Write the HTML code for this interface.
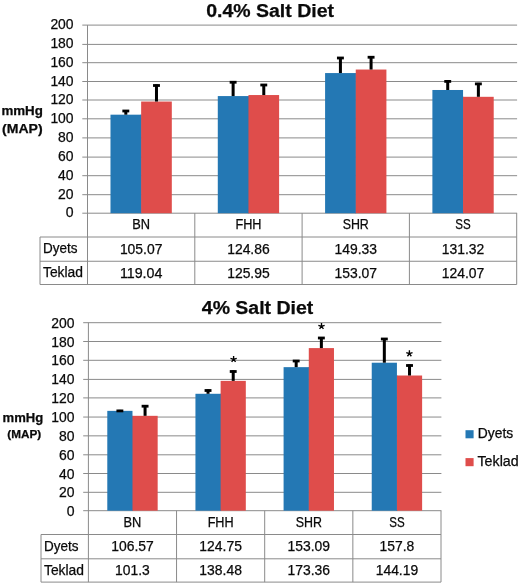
<!DOCTYPE html><html><head><meta charset="utf-8"><title>Salt Diet MAP</title>
<style>html,body{margin:0;padding:0;background:#fff}svg{display:block;will-change:transform;transform:translateZ(0)}text{font-family:"Liberation Sans",sans-serif;fill:#0a0a0a;stroke:#0a0a0a;stroke-width:0.25px}</style></head><body>
<svg width="520" height="585" viewBox="0 0 520 585">
<rect width="520" height="585" fill="#fff"/>
<line x1="82.30" y1="213.20" x2="517.10" y2="213.20" stroke="#8a8a8a" stroke-width="1"/>
<text x="73.60" y="217.20" font-size="13.9" text-anchor="end" textLength="7.8" lengthAdjust="spacingAndGlyphs">0</text>
<line x1="82.30" y1="194.70" x2="517.10" y2="194.70" stroke="#8a8a8a" stroke-width="1"/>
<text x="73.60" y="198.70" font-size="13.9" text-anchor="end" textLength="15.5" lengthAdjust="spacingAndGlyphs">20</text>
<line x1="82.30" y1="175.70" x2="517.10" y2="175.70" stroke="#8a8a8a" stroke-width="1"/>
<text x="73.60" y="179.70" font-size="13.9" text-anchor="end" textLength="15.5" lengthAdjust="spacingAndGlyphs">40</text>
<line x1="82.30" y1="157.10" x2="517.10" y2="157.10" stroke="#8a8a8a" stroke-width="1"/>
<text x="73.60" y="161.10" font-size="13.9" text-anchor="end" textLength="15.5" lengthAdjust="spacingAndGlyphs">60</text>
<line x1="82.30" y1="137.90" x2="517.10" y2="137.90" stroke="#8a8a8a" stroke-width="1"/>
<text x="73.60" y="141.90" font-size="13.9" text-anchor="end" textLength="15.5" lengthAdjust="spacingAndGlyphs">80</text>
<line x1="82.30" y1="118.80" x2="517.10" y2="118.80" stroke="#8a8a8a" stroke-width="1"/>
<text x="73.60" y="122.80" font-size="13.9" text-anchor="end" textLength="23.2" lengthAdjust="spacingAndGlyphs">100</text>
<line x1="82.30" y1="100.00" x2="517.10" y2="100.00" stroke="#8a8a8a" stroke-width="1"/>
<text x="73.60" y="104.00" font-size="13.9" text-anchor="end" textLength="23.2" lengthAdjust="spacingAndGlyphs">120</text>
<line x1="82.30" y1="81.50" x2="517.10" y2="81.50" stroke="#8a8a8a" stroke-width="1"/>
<text x="73.60" y="85.50" font-size="13.9" text-anchor="end" textLength="23.2" lengthAdjust="spacingAndGlyphs">140</text>
<line x1="82.30" y1="62.70" x2="517.10" y2="62.70" stroke="#8a8a8a" stroke-width="1"/>
<text x="73.60" y="66.70" font-size="13.9" text-anchor="end" textLength="23.2" lengthAdjust="spacingAndGlyphs">160</text>
<line x1="82.30" y1="44.40" x2="517.10" y2="44.40" stroke="#8a8a8a" stroke-width="1"/>
<text x="73.60" y="48.40" font-size="13.9" text-anchor="end" textLength="23.2" lengthAdjust="spacingAndGlyphs">180</text>
<line x1="82.30" y1="25.10" x2="517.10" y2="25.10" stroke="#8a8a8a" stroke-width="1"/>
<text x="73.60" y="29.10" font-size="13.9" text-anchor="end" textLength="23.2" lengthAdjust="spacingAndGlyphs">200</text>
<line x1="87.50" y1="25.10" x2="87.50" y2="284.50" stroke="#8a8a8a" stroke-width="1"/>
<rect x="140.55" y="114.68" width="1.2" height="98.52" fill="#2478b4"/>
<rect x="110.49" y="114.68" width="30.66" height="98.52" fill="#2478b4"/>
<rect x="141.15" y="101.54" width="30.66" height="111.66" fill="#df4d4b"/>
<rect x="124.32" y="110.00" width="3" height="4.68" fill="#000"/>
<rect x="122.37" y="109.60" width="6.9" height="2.8" fill="#000"/>
<rect x="154.98" y="84.50" width="3" height="17.04" fill="#000"/>
<rect x="153.03" y="84.10" width="6.9" height="2.8" fill="#000"/>
<rect x="247.85" y="96.07" width="1.2" height="117.13" fill="#2478b4"/>
<rect x="217.79" y="96.07" width="30.66" height="117.13" fill="#2478b4"/>
<rect x="248.45" y="95.04" width="30.66" height="118.16" fill="#df4d4b"/>
<rect x="231.62" y="81.25" width="3" height="14.82" fill="#000"/>
<rect x="229.67" y="80.85" width="6.9" height="2.8" fill="#000"/>
<rect x="262.28" y="84.00" width="3" height="11.04" fill="#000"/>
<rect x="260.33" y="83.60" width="6.9" height="2.8" fill="#000"/>
<rect x="355.15" y="73.06" width="1.2" height="140.14" fill="#2478b4"/>
<rect x="325.09" y="73.06" width="30.66" height="140.14" fill="#2478b4"/>
<rect x="355.75" y="69.54" width="30.66" height="143.66" fill="#df4d4b"/>
<rect x="338.92" y="57.00" width="3" height="16.06" fill="#000"/>
<rect x="336.97" y="56.60" width="6.9" height="2.8" fill="#000"/>
<rect x="369.58" y="56.25" width="3" height="13.29" fill="#000"/>
<rect x="367.63" y="55.85" width="6.9" height="2.8" fill="#000"/>
<rect x="462.45" y="96.81" width="1.2" height="116.39" fill="#2478b4"/>
<rect x="432.39" y="89.99" width="30.66" height="123.21" fill="#2478b4"/>
<rect x="463.05" y="96.81" width="30.66" height="116.39" fill="#df4d4b"/>
<rect x="446.22" y="80.40" width="3" height="9.59" fill="#000"/>
<rect x="444.27" y="80.00" width="6.9" height="2.8" fill="#000"/>
<rect x="476.88" y="82.90" width="3" height="13.91" fill="#000"/>
<rect x="474.93" y="82.50" width="6.9" height="2.8" fill="#000"/>
<line x1="40.00" y1="237.00" x2="516.70" y2="237.00" stroke="#8a8a8a" stroke-width="1"/>
<line x1="40.00" y1="261.25" x2="516.70" y2="261.25" stroke="#8a8a8a" stroke-width="1"/>
<line x1="40.00" y1="284.50" x2="516.70" y2="284.50" stroke="#8a8a8a" stroke-width="1"/>
<line x1="40.00" y1="237.00" x2="40.00" y2="284.50" stroke="#8a8a8a" stroke-width="1"/>
<line x1="194.80" y1="213.20" x2="194.80" y2="284.50" stroke="#8a8a8a" stroke-width="1"/>
<line x1="302.10" y1="213.20" x2="302.10" y2="284.50" stroke="#8a8a8a" stroke-width="1"/>
<line x1="409.40" y1="213.20" x2="409.40" y2="284.50" stroke="#8a8a8a" stroke-width="1"/>
<line x1="516.70" y1="213.20" x2="516.70" y2="284.50" stroke="#8a8a8a" stroke-width="1"/>
<text x="141.15" y="229.10" font-size="13.8" text-anchor="middle" textLength="17.8" lengthAdjust="spacingAndGlyphs">BN</text>
<text x="141.15" y="253.60" font-size="13.8" text-anchor="middle" textLength="42.5" lengthAdjust="spacingAndGlyphs">105.07</text>
<text x="141.15" y="277.85" font-size="13.8" text-anchor="middle" textLength="42.5" lengthAdjust="spacingAndGlyphs">119.04</text>
<text x="248.45" y="229.10" font-size="13.8" text-anchor="middle" textLength="26.0" lengthAdjust="spacingAndGlyphs">FHH</text>
<text x="248.45" y="253.60" font-size="13.8" text-anchor="middle" textLength="42.5" lengthAdjust="spacingAndGlyphs">124.86</text>
<text x="248.45" y="277.85" font-size="13.8" text-anchor="middle" textLength="42.5" lengthAdjust="spacingAndGlyphs">125.95</text>
<text x="355.75" y="229.10" font-size="13.8" text-anchor="middle" textLength="26.2" lengthAdjust="spacingAndGlyphs">SHR</text>
<text x="355.75" y="253.60" font-size="13.8" text-anchor="middle" textLength="42.5" lengthAdjust="spacingAndGlyphs">149.33</text>
<text x="355.75" y="277.85" font-size="13.8" text-anchor="middle" textLength="42.5" lengthAdjust="spacingAndGlyphs">153.07</text>
<text x="463.05" y="229.10" font-size="13.8" text-anchor="middle" textLength="15.4" lengthAdjust="spacingAndGlyphs">SS</text>
<text x="463.05" y="253.60" font-size="13.8" text-anchor="middle" textLength="42.5" lengthAdjust="spacingAndGlyphs">131.32</text>
<text x="463.05" y="277.85" font-size="13.8" text-anchor="middle" textLength="42.5" lengthAdjust="spacingAndGlyphs">124.07</text>
<text x="43.00" y="253.00" font-size="13.8" text-anchor="start" textLength="34.5" lengthAdjust="spacingAndGlyphs">Dyets</text>
<text x="43.00" y="277.25" font-size="13.8" text-anchor="start" textLength="40.0" lengthAdjust="spacingAndGlyphs">Teklad</text>
<text x="206.20" y="17.20" font-size="19.1" text-anchor="start" font-weight="bold" textLength="127.8" lengthAdjust="spacingAndGlyphs">0.4% Salt Diet</text>
<text x="1.40" y="114.70" font-size="13.3" text-anchor="start" font-weight="bold" textLength="41.5" lengthAdjust="spacingAndGlyphs">mmHg</text>
<text x="2.00" y="133.00" font-size="13.3" text-anchor="start" font-weight="bold" textLength="40.6" lengthAdjust="spacingAndGlyphs">(MAP)</text>
<line x1="83.20" y1="510.70" x2="441.40" y2="510.70" stroke="#8a8a8a" stroke-width="1"/>
<text x="74.50" y="515.70" font-size="13.9" text-anchor="end" textLength="7.8" lengthAdjust="spacingAndGlyphs">0</text>
<line x1="83.20" y1="492.30" x2="441.40" y2="492.30" stroke="#8a8a8a" stroke-width="1"/>
<text x="74.50" y="497.30" font-size="13.9" text-anchor="end" textLength="15.5" lengthAdjust="spacingAndGlyphs">20</text>
<line x1="83.20" y1="473.50" x2="441.40" y2="473.50" stroke="#8a8a8a" stroke-width="1"/>
<text x="74.50" y="478.50" font-size="13.9" text-anchor="end" textLength="15.5" lengthAdjust="spacingAndGlyphs">40</text>
<line x1="83.20" y1="454.80" x2="441.40" y2="454.80" stroke="#8a8a8a" stroke-width="1"/>
<text x="74.50" y="459.80" font-size="13.9" text-anchor="end" textLength="15.5" lengthAdjust="spacingAndGlyphs">60</text>
<line x1="83.20" y1="435.85" x2="441.40" y2="435.85" stroke="#8a8a8a" stroke-width="1"/>
<text x="74.50" y="440.85" font-size="13.9" text-anchor="end" textLength="15.5" lengthAdjust="spacingAndGlyphs">80</text>
<line x1="83.20" y1="417.05" x2="441.40" y2="417.05" stroke="#8a8a8a" stroke-width="1"/>
<text x="74.50" y="422.05" font-size="13.9" text-anchor="end" textLength="23.2" lengthAdjust="spacingAndGlyphs">100</text>
<line x1="83.20" y1="397.90" x2="441.40" y2="397.90" stroke="#8a8a8a" stroke-width="1"/>
<text x="74.50" y="402.90" font-size="13.9" text-anchor="end" textLength="23.2" lengthAdjust="spacingAndGlyphs">120</text>
<line x1="83.20" y1="379.40" x2="441.40" y2="379.40" stroke="#8a8a8a" stroke-width="1"/>
<text x="74.50" y="384.40" font-size="13.9" text-anchor="end" textLength="23.2" lengthAdjust="spacingAndGlyphs">140</text>
<line x1="83.20" y1="360.30" x2="441.40" y2="360.30" stroke="#8a8a8a" stroke-width="1"/>
<text x="74.50" y="365.30" font-size="13.9" text-anchor="end" textLength="23.2" lengthAdjust="spacingAndGlyphs">160</text>
<line x1="83.20" y1="341.50" x2="441.40" y2="341.50" stroke="#8a8a8a" stroke-width="1"/>
<text x="74.50" y="346.50" font-size="13.9" text-anchor="end" textLength="23.2" lengthAdjust="spacingAndGlyphs">180</text>
<line x1="83.20" y1="322.70" x2="441.40" y2="322.70" stroke="#8a8a8a" stroke-width="1"/>
<text x="74.50" y="327.70" font-size="13.9" text-anchor="end" textLength="23.2" lengthAdjust="spacingAndGlyphs">200</text>
<line x1="88.40" y1="322.70" x2="88.40" y2="582.10" stroke="#8a8a8a" stroke-width="1"/>
<rect x="131.88" y="415.83" width="1.2" height="94.87" fill="#2478b4"/>
<rect x="107.29" y="410.87" width="25.19" height="99.83" fill="#2478b4"/>
<rect x="132.48" y="415.83" width="25.19" height="94.87" fill="#df4d4b"/>
<rect x="118.38" y="409.90" width="3" height="0.97" fill="#000"/>
<rect x="116.43" y="409.50" width="6.9" height="2.8" fill="#000"/>
<rect x="143.57" y="405.20" width="3" height="10.63" fill="#000"/>
<rect x="141.62" y="404.80" width="6.9" height="2.8" fill="#000"/>
<rect x="220.03" y="393.79" width="1.2" height="116.91" fill="#2478b4"/>
<rect x="195.44" y="393.79" width="25.19" height="116.91" fill="#2478b4"/>
<rect x="220.62" y="380.88" width="25.19" height="129.82" fill="#df4d4b"/>
<rect x="206.53" y="389.50" width="3" height="4.29" fill="#000"/>
<rect x="204.58" y="389.10" width="6.9" height="2.8" fill="#000"/>
<rect x="231.72" y="370.50" width="3" height="10.38" fill="#000"/>
<rect x="229.77" y="370.10" width="6.9" height="2.8" fill="#000"/>
<rect x="308.18" y="367.15" width="1.2" height="143.55" fill="#2478b4"/>
<rect x="283.59" y="367.15" width="25.19" height="143.55" fill="#2478b4"/>
<rect x="308.78" y="348.09" width="25.19" height="162.61" fill="#df4d4b"/>
<rect x="294.68" y="360.00" width="3" height="7.15" fill="#000"/>
<rect x="292.73" y="359.60" width="6.9" height="2.8" fill="#000"/>
<rect x="319.87" y="337.00" width="3" height="11.09" fill="#000"/>
<rect x="317.92" y="336.60" width="6.9" height="2.8" fill="#000"/>
<rect x="396.33" y="375.51" width="1.2" height="135.19" fill="#2478b4"/>
<rect x="371.74" y="362.72" width="25.19" height="147.98" fill="#2478b4"/>
<rect x="396.93" y="375.51" width="25.19" height="135.19" fill="#df4d4b"/>
<rect x="382.83" y="338.00" width="3" height="24.72" fill="#000"/>
<rect x="380.88" y="337.60" width="6.9" height="2.8" fill="#000"/>
<rect x="408.02" y="364.50" width="3" height="11.01" fill="#000"/>
<rect x="406.07" y="364.10" width="6.9" height="2.8" fill="#000"/>
<line x1="41.00" y1="534.50" x2="441.00" y2="534.50" stroke="#8a8a8a" stroke-width="1"/>
<line x1="41.00" y1="558.80" x2="441.00" y2="558.80" stroke="#8a8a8a" stroke-width="1"/>
<line x1="41.00" y1="582.10" x2="441.00" y2="582.10" stroke="#8a8a8a" stroke-width="1"/>
<line x1="41.00" y1="534.50" x2="41.00" y2="582.10" stroke="#8a8a8a" stroke-width="1"/>
<line x1="176.55" y1="510.70" x2="176.55" y2="582.10" stroke="#8a8a8a" stroke-width="1"/>
<line x1="264.70" y1="510.70" x2="264.70" y2="582.10" stroke="#8a8a8a" stroke-width="1"/>
<line x1="352.85" y1="510.70" x2="352.85" y2="582.10" stroke="#8a8a8a" stroke-width="1"/>
<line x1="441.00" y1="510.70" x2="441.00" y2="582.10" stroke="#8a8a8a" stroke-width="1"/>
<text x="132.48" y="526.80" font-size="13.8" text-anchor="middle" textLength="17.8" lengthAdjust="spacingAndGlyphs">BN</text>
<text x="132.48" y="551.10" font-size="13.8" text-anchor="middle" textLength="42.5" lengthAdjust="spacingAndGlyphs">106.57</text>
<text x="132.48" y="575.40" font-size="13.8" text-anchor="middle" textLength="34.7" lengthAdjust="spacingAndGlyphs">101.3</text>
<text x="220.63" y="526.80" font-size="13.8" text-anchor="middle" textLength="26.0" lengthAdjust="spacingAndGlyphs">FHH</text>
<text x="220.63" y="551.10" font-size="13.8" text-anchor="middle" textLength="42.5" lengthAdjust="spacingAndGlyphs">124.75</text>
<text x="220.63" y="575.40" font-size="13.8" text-anchor="middle" textLength="42.5" lengthAdjust="spacingAndGlyphs">138.48</text>
<text x="308.77" y="526.80" font-size="13.8" text-anchor="middle" textLength="26.2" lengthAdjust="spacingAndGlyphs">SHR</text>
<text x="308.77" y="551.10" font-size="13.8" text-anchor="middle" textLength="42.5" lengthAdjust="spacingAndGlyphs">153.09</text>
<text x="308.77" y="575.40" font-size="13.8" text-anchor="middle" textLength="42.5" lengthAdjust="spacingAndGlyphs">173.36</text>
<text x="396.93" y="526.80" font-size="13.8" text-anchor="middle" textLength="15.4" lengthAdjust="spacingAndGlyphs">SS</text>
<text x="396.93" y="551.10" font-size="13.8" text-anchor="middle" textLength="34.7" lengthAdjust="spacingAndGlyphs">157.8</text>
<text x="396.93" y="575.40" font-size="13.8" text-anchor="middle" textLength="42.5" lengthAdjust="spacingAndGlyphs">144.19</text>
<text x="44.00" y="550.50" font-size="13.8" text-anchor="start" textLength="34.5" lengthAdjust="spacingAndGlyphs">Dyets</text>
<text x="44.00" y="574.80" font-size="13.8" text-anchor="start" textLength="40.0" lengthAdjust="spacingAndGlyphs">Teklad</text>
<text x="201.80" y="314.40" font-size="19.1" text-anchor="start" font-weight="bold" textLength="111.5" lengthAdjust="spacingAndGlyphs">4% Salt Diet</text>
<text x="2.60" y="421.60" font-size="13" text-anchor="start" font-weight="bold" textLength="40.7" lengthAdjust="spacingAndGlyphs">mmHg</text>
<text x="7.30" y="438.40" font-size="11.5" text-anchor="start" font-weight="bold" textLength="33.9" lengthAdjust="spacingAndGlyphs">(MAP)</text>
<path d="M233.60 359.30L233.60 356.00M233.60 359.30L236.74 358.28M233.60 359.30L235.54 361.97M233.60 359.30L231.66 361.97M233.60 359.30L230.46 358.28" stroke="#000" stroke-width="1.35" fill="none"/>
<path d="M321.50 326.30L321.50 323.00M321.50 326.30L324.64 325.28M321.50 326.30L323.44 328.97M321.50 326.30L319.56 328.97M321.50 326.30L318.36 325.28" stroke="#000" stroke-width="1.35" fill="none"/>
<path d="M409.40 353.60L409.40 350.30M409.40 353.60L412.54 352.58M409.40 353.60L411.34 356.27M409.40 353.60L407.46 356.27M409.40 353.60L406.26 352.58" stroke="#000" stroke-width="1.35" fill="none"/>
<rect x="465.5" y="430.2" width="8.1" height="8.1" fill="#2478b4"/>
<rect x="465.5" y="458.1" width="8.1" height="8.1" fill="#df4d4b"/>
<text x="477.80" y="438.20" font-size="13.8" text-anchor="start" textLength="35.4" lengthAdjust="spacingAndGlyphs">Dyets</text>
<text x="477.50" y="466.20" font-size="13.8" text-anchor="start" textLength="41.2" lengthAdjust="spacingAndGlyphs">Teklad</text>
</svg></body></html>
